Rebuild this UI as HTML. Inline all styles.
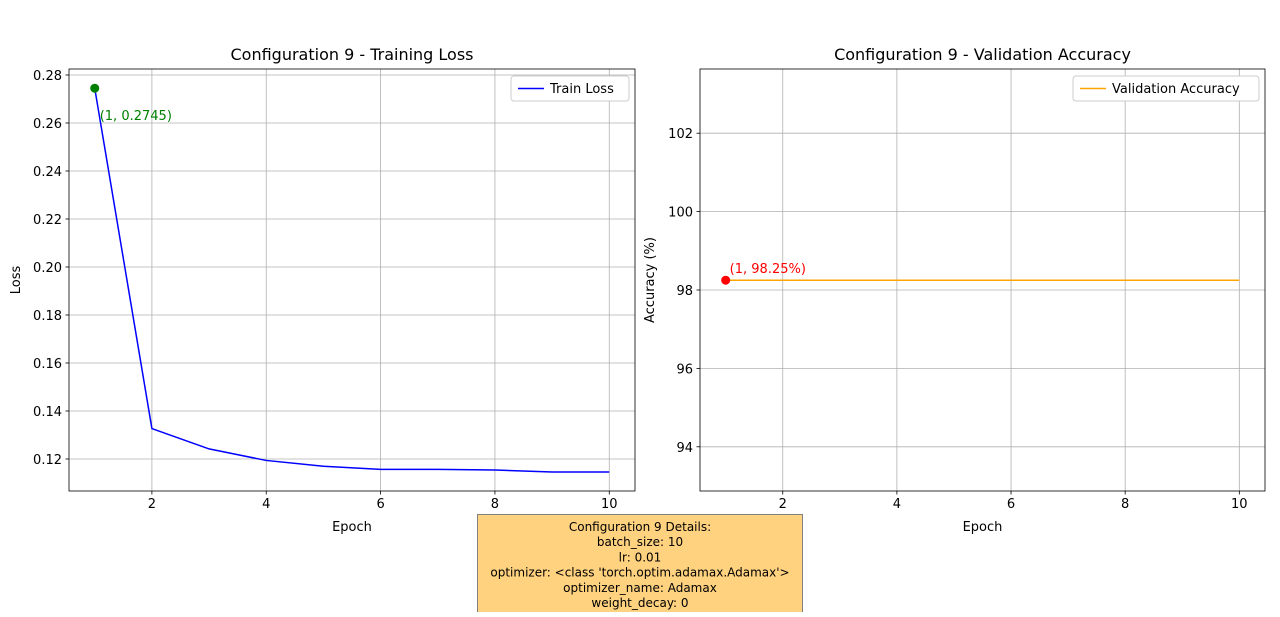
<!DOCTYPE html>
<html><head><meta charset="utf-8"><style>
body{margin:0;background:#fff;}
svg text{font-family:"DejaVu Sans","Liberation Sans",sans-serif;}
</style></head><body>
<svg id="c" width="1280" height="612" xmlns="http://www.w3.org/2000/svg"></svg>
<script>
const epochs=[1,2,3,4,5,6,7,8,9,10];
const trainLoss=[0.2745,0.1327,0.1242,0.1194,0.1170,0.1157,0.1157,0.1154,0.1146,0.1146];
const valAcc=[98.25,98.25,98.25,98.25,98.25,98.25,98.25,98.25,98.25,98.25];
const xTicks=[2,4,6,8,10];
const lossTicks=[0.12,0.14,0.16,0.18,0.20,0.22,0.24,0.26,0.28];
const accTicks=[94,96,98,100,102];
const NS="http://www.w3.org/2000/svg";
const svg=document.getElementById('c');
function mk(t,a,txt){const e=document.createElementNS(NS,t);for(const k in a)e.setAttribute(k,a[k]);if(txt!==undefined)e.textContent=txt;svg.appendChild(e);return e;}
function panel(o){
 const sx=v=>o.x0+(v-o.xmin)/(o.xmax-o.xmin)*(o.x1-o.x0);
 const sy=v=>o.y1-(v-o.ymin)/(o.ymax-o.ymin)*(o.y1-o.y0);
 xTicks.forEach(t=>{const x=sx(t);
  let g=mk('line',{x1:x,x2:x,y1:o.y0,y2:o.y1,stroke:'#b0b0b0','stroke-width':0.8});
  
  
  mk('line',{x1:x,x2:x,y1:o.y1,y2:o.y1+3.5,stroke:'#000','stroke-width':0.8});
  let l=mk('text',{x:x,y:o.y1+17,'font-size':13,'text-anchor':'middle'},String(t));
  
  });
 o.yt.forEach(t=>{const y=sy(t);
  let g=mk('line',{x1:o.x0,x2:o.x1,y1:y,y2:y,stroke:'#b0b0b0','stroke-width':0.8});
  
  
  mk('line',{x1:o.x0-3.5,x2:o.x0,y1:y,y2:y,stroke:'#000','stroke-width':0.8});
  let l=mk('text',{x:o.x0-7,y:y+5,'font-size':13,'text-anchor':'end'},o.fmt(t));
  
  });
 const pts=epochs.map((e,i)=>sx(e)+','+sy(o.data[i])).join(' ');
 let pl=mk('polyline',{points:pts,fill:'none',stroke:o.color,'stroke-width':1.5});
 
 
 let d=mk('circle',{cx:sx(epochs[0]),cy:sy(o.data[0]),r:4.5,fill:o.mcolor});
 
 
 let a=mk('text',{x:sx(epochs[0])+o.ax,y:sy(o.data[0])+o.ay,'font-size':13,fill:o.mcolor},o.ann);
 
 
 let fr=mk('rect',{x:o.x0,y:o.y0,width:o.x1-o.x0,height:o.y1-o.y0,fill:'none',stroke:'#000','stroke-width':0.8});
 
 
 let ti=mk('text',{x:(o.x0+o.x1)/2,y:o.y0-9,'font-size':16,'text-anchor':'middle'},o.title);
 
 
 let xl=mk('text',{x:(o.x0+o.x1)/2,y:o.y1+40,'font-size':13,'text-anchor':'middle'},'Epoch');
 
 
 const yx=o.ylx, yy=(o.y0+o.y1)/2;
 let yl=mk('text',{x:yx,y:yy,'font-size':13,'text-anchor':'middle',transform:`rotate(-90 ${yx} ${yy})`},o.ylabel);
 
 
 const lx=o.x1-o.lw-6, ly=o.y0+7;
 let lg=mk('rect',{x:lx,y:ly,width:o.lw,height:25,rx:3,fill:'#fff',stroke:'#ccc','stroke-width':1});
 
 
 mk('line',{x1:lx+7,x2:lx+33,y1:ly+12.5,y2:ly+12.5,stroke:o.color,'stroke-width':1.5});
 let lt=mk('text',{x:lx+39,y:ly+17,'font-size':13},o.legend);
 
 
}
panel({name:'train-loss',x0:69,x1:635,y0:69,y1:491,xmin:0.55,xmax:10.45,ymin:0.12-(491-459)/2400,ymax:0.12+(459-69)/2400,
 yt:lossTicks,fmt:v=>v.toFixed(2),data:trainLoss,color:'#0000ff',mcolor:'#008000',ann:'(1, 0.2745)',ax:5,ay:32,
 title:'Configuration 9 - Training Loss',ylabel:'Loss',ylx:20,legend:'Train Loss',lw:118});
panel({name:'val-acc',x0:700,x1:1265,y0:69,y1:491,xmin:0.55,xmax:10.45,ymin:98-(491-290)/39.2,ymax:98+(290-69)/39.2,
 yt:accTicks,fmt:v=>String(v),data:valAcc,color:'#ffa500',mcolor:'#ff0000',ann:'(1, 98.25%)',ax:4,ay:-7,
 title:'Configuration 9 - Validation Accuracy',ylabel:'Accuracy (%)',ylx:654,legend:'Validation Accuracy',lw:186});
let bx=mk('rect',{x:477.5,y:514.5,width:325,height:110,fill:'#ffd280',stroke:'#808080','stroke-width':1});


['Configuration 9 Details:','batch_size: 10','lr: 0.01',"optimizer: <class 'torch.optim.adamax.Adamax'>",'optimizer_name: Adamax','weight_decay: 0'].forEach((s,i)=>{
 let t=mk('text',{x:640,y:531+i*15.2,'font-size':12,'text-anchor':'middle'},s);
 
 });
</script>
</body></html>
